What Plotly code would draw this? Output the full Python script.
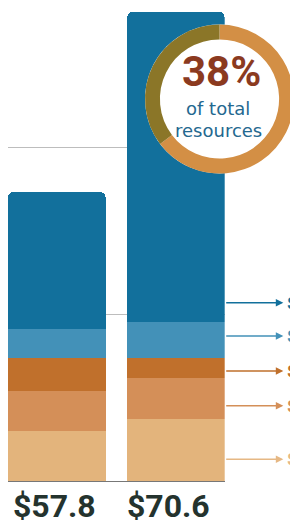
import plotly.graph_objects as go

# ---------------- data ----------------
categories = ["$57.8", "$70.6"]          # bar total labels shown under bars
series_names = ["Segment 5", "Segment 4", "Segment 3", "Segment 2", "Segment 1"]  # bottom -> top
light_orange = [7.5, 9.3]
medium_orange = [6.0, 6.2]
dark_orange = [5.0, 3.0]
light_blue = [4.3, 5.4]
dark_blue = [20.6, 46.5]

ring_labels = ["rest", "highlighted share"]
ring_share = [64.7, 35.3]                # donut: rest, highlighted share
ring_big_text = "38%"
ring_small_text = ["of total", "resources"]

arrow_levels = [26.75, 21.75, 16.5, 11.3, 3.25]   # y values the side arrows sit at (top -> bottom)
arrow_labels = ["$", "$", "$", "$", "$"]

# ---------------- style ----------------
C_DBLUE = "#12709C"
C_LBLUE = "#4391B8"
C_DORANGE = "#C0702C"
C_MORANGE = "#D48F58"
C_LORANGE = "#E3B47C"
arrow_colors = [C_DBLUE, C_LBLUE, C_DORANGE, C_MORANGE, "#E6B884"]

# page body has an 8px default margin; figure fills the rest of the 298x525 window
OFF = 8
W, H = 298 - OFF, 525 - OFF


def px_x(px):   # window pixel -> paper x
    return (px - OFF) / W


def px_y(py):   # window pixel -> paper y
    return (H - (py - OFF)) / H


fig = go.Figure()

for name, vals, col in zip(series_names,
                           [light_orange, medium_orange, dark_orange, light_blue, dark_blue],
                           [C_LORANGE, C_MORANGE, C_DORANGE, C_LBLUE, C_DBLUE]):
    fig.add_trace(go.Bar(x=categories, y=vals, name=name, marker=dict(color=col, line=dict(width=0)),
                         hoverinfo="skip"))

# donut: white disc underneath, then ring
pie_dom = dict(x=[px_x(145), px_x(294)], y=[px_y(173.5), px_y(24.5)])
fig.add_trace(go.Pie(values=[1], marker=dict(colors=["white"], line=dict(width=0)), domain=pie_dom,
                     textinfo="none", hoverinfo="skip", sort=False, showlegend=False))
fig.add_trace(go.Pie(labels=ring_labels, values=ring_share,
                     marker=dict(colors=["#D38F45", "#8B7628"], line=dict(width=0)),
                     domain=pie_dom, hole=0.8, direction="clockwise", rotation=0, sort=False,
                     textinfo="none", hoverinfo="skip", showlegend=False))

annotations = []
# ring texts
annotations.append(dict(text=f"<b>{ring_big_text}</b>", xref="paper", yref="paper",
                        x=px_x(221), y=px_y(72), xanchor="center", yanchor="middle", showarrow=False,
                        font=dict(family="Roboto", size=42, color="#8B3A1F")))
for t, py in zip(ring_small_text, [108, 130]):
    annotations.append(dict(text=t, xref="paper", yref="paper", x=px_x(218), y=px_y(py),
                            xanchor="center", yanchor="middle", showarrow=False,
                            font=dict(family="DejaVu Sans", size=18, color="#24688F")))
# total labels under bars
for cat, xs in zip(categories, [-2, -7.5]):
    annotations.append(dict(text=f"<b>{cat}</b>", xref="x", yref="paper", x=cat, y=px_y(505.5),
                            xshift=xs, xanchor="center", yanchor="middle", showarrow=False,
                            font=dict(family="Roboto", size=32, color="#24332E")))
# side arrows and labels
for lvl, lab, col in zip(arrow_levels, arrow_labels, arrow_colors):
    annotations.append(dict(text="", xref="paper", yref="y", x=px_x(283.3), y=lvl,
                            ax=-58.6, ay=0, axref="pixel", ayref="pixel", showarrow=True,
                            arrowhead=2, arrowsize=1, arrowwidth=1.5, arrowcolor=col, standoff=0))
    annotations.append(dict(text=f"<b>{lab}</b>", xref="paper", yref="y", x=1.0, y=lvl,
                            xanchor="right", yanchor="middle", showarrow=False, borderpad=0,
                            font=dict(family="Roboto", size=17, color=col)))

PX_PER_UNIT = 6.6667
fig.update_layout(
    width=W, height=H,
    margin=dict(l=0, r=0, t=0, b=0),
    paper_bgcolor="white", plot_bgcolor="white",
    barmode="stack", bargap=0.181, barcornerradius=6,
    showlegend=False,
    annotations=annotations,
    xaxis=dict(domain=[px_x(8), px_x(224.7)], range=[-0.41, 1.41], showticklabels=False, ticks="",
               showgrid=False, zeroline=False, showline=True, linecolor="#777777", linewidth=1,
               layer="below traces", fixedrange=True),
    yaxis=dict(domain=[px_y(481), 1], range=[0, (481 - OFF) / PX_PER_UNIT], dtick=25, tick0=0,
               showticklabels=False, ticks="", showgrid=True, gridcolor="#BDBDBD", gridwidth=1,
               zeroline=False, showline=False, fixedrange=True),
)

fig.write_html("out.html")
